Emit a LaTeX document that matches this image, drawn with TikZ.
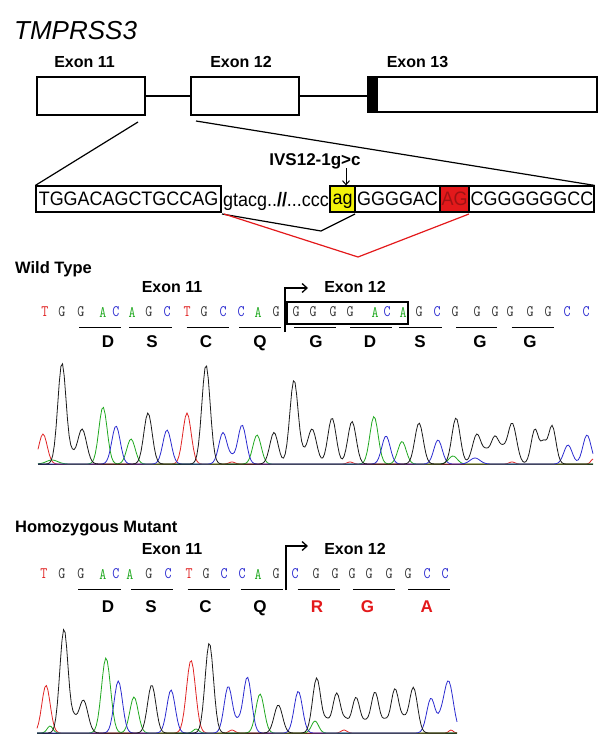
\documentclass[tikz,border=0pt]{standalone}
\usepackage{graphicx}
\usepackage{fontspec}
\setmainfont{Liberation Sans}
\usetikzlibrary{arrows.meta}
\definecolor{tblk}{HTML}{1A1A1A}
\definecolor{tgrn}{HTML}{1FA81F}
\definecolor{tblu}{HTML}{2B2BD0}
\definecolor{tred}{HTML}{E02424}
\definecolor{aared}{HTML}{E3191B}
\definecolor{hlyel}{HTML}{F2F20A}
\definecolor{ntblk}{HTML}{333333}
\newcommand\sqtxt[1]{\scalebox{0.92}[1]{#1}}
\newcommand\ntxt[1]{\scalebox{0.85}[1]{#1}}
\begin{document}
\begin{tikzpicture}[x=1pt,y=-1pt,
  every node/.style={inner sep=0pt, text depth=0pt},
  exonlbl/.style={font=\fontsize{16}{16}\selectfont\bfseries},
  exonbox/.style={draw, line width=1.2pt, fill=white},
  seqbox/.style={draw, line width=1.2pt, minimum height=26pt},
  seqtxt/.style={font=\fontsize{19.5}{19.5}\selectfont},
  ntd/.style={font=\ttfamily\fontsize{16}{16}\selectfont},
  codon/.style={line width=1.8pt},
  aa/.style={font=\fontsize{17}{17}\selectfont\bfseries},
  exarrow/.style={line width=1.3pt, -{Straight Barb[length=5pt,width=9pt]}},
  trace/.style={line width=0.8pt},
  baseln/.style={line width=1.8pt, black!85},
  declare function={pk(\ta,\tb,\tc,\td)=\tc*exp(-min(abs((\ta-\tb)/\td),5)*min(abs((\ta-\tb)/\td),5));}
]
\useasboundingbox (0,0) rectangle (600,749);

% ---------------- gene structure ----------------
\node[font=\fontsize{26}{26}\selectfont\itshape, anchor=west] (title) at (14,30) {TMPRSS3};
\node[exonlbl] (l11) at (84.5,62) {Exon 11};
\node[exonlbl] (l12) at (241,62) {Exon 12};
\node[exonlbl] (l13) at (417.5,62) {Exon 13};

\node[exonbox, minimum width=108pt, minimum height=38pt] (e11) at (91,96) {};
\node[exonbox, minimum width=108pt, minimum height=38pt] (e12) at (245,96) {};
\node[exonbox, minimum width=229pt, minimum height=35pt] (e13) at (482.5,94.5) {};
\node[fill=black, minimum width=10pt, minimum height=35pt, anchor=north west] (e13c) at (e13.north west) {};
\draw[line width=1.2pt] (e11.east) -- (e12.west);
\draw[line width=1.2pt] (e12.east) -- (e12.east -| e13.west);

% ---------------- sequence ----------------
\node[seqbox, seqtxt, minimum width=185pt] (s1) at (128.5,199) {\sqtxt{TGGACAGCTGCCAG}};
\node[seqtxt] (intr) at (276,199) {\sqtxt{gtacg..\textbf{//}...ccc}};
\node[seqbox, seqtxt, fill=hlyel, minimum width=25pt] (ag) at (342.5,199) {\sqtxt{ag}};
\node[seqbox, minimum width=239pt] (s2) at (474.5,199) {};
\node[seqbox, seqtxt, fill=aared, minimum width=29pt, text=aared!70!black] (AG) at (454.5,199) {\sqtxt{AG}};
\node[seqtxt] (gg) at (397.5,199) {\sqtxt{GGGGAC}};
\node[seqtxt] (cg) at (532,199) {\sqtxt{CGGGGGGCC}};

\coordinate (z1) at (138,122);
\coordinate (z2) at (196,121);
\draw[line width=1.2pt] (z1) -- (s1.north west);
\draw[line width=1.2pt] (z2) -- (s2.north east);

\node[font=\fontsize{17}{17}\selectfont\bfseries] (ivs) at (315,160) {IVS12-1g>c};
\coordinate (ivsa) at (346,168);
\draw[line width=1pt, -{Straight Barb[length=4pt,width=7pt]}] (ivsa) -- (ivsa |- ag.north);

\coordinate (sp1) at (222,214);
\coordinate (sp2) at (321,231);
\coordinate (sp3) at (355,214);
\draw[line width=1.2pt] (sp1) -- (sp2) -- (sp3);
\coordinate (rp1) at (224,214);
\coordinate (rp2) at (358,257);
\coordinate (rp3) at (469,214);
\draw[line width=1.2pt, aared] (rp1) -- (rp2) -- (rp3);

% ---------------- wild type ----------------
\node[font=\fontsize{16.5}{16.5}\selectfont\bfseries, anchor=west] (wt) at (15,268) {Wild Type};
\node[exonlbl] (w11) at (172,287) {Exon 11};
\node[exonlbl] (w12) at (355,287) {Exon 12};
\coordinate (warr0) at (285,332);
\coordinate (warr1) at (308,288);
\draw[exarrow] (warr0) |- (warr1);
\node[draw, line width=1.5pt, minimum width=121pt, minimum height=22pt] (wbox) at (347.5,313) {};
\foreach \x/\l/\c [count=\i] in {45/T/tred,62/G/ntblk,81/G/ntblk,103/A/tgrn,116/C/tblu,132/A/tgrn,149/G/ntblk,167/C/tblu,187/T/tred,204/G/ntblk,223/C/tblu,241/C/tblu,258/A/tgrn,276/G/ntblk,296/G/ntblk,313/G/ntblk,333/G/ntblk,350/G/ntblk,375/A/tgrn,387/C/tblu,403/A/tgrn,419/G/ntblk,437/C/tblu,455/G/ntblk,477/G/ntblk,495/G/ntblk,510/G/ntblk,530/G/ntblk,548/G/ntblk,567/C/tblu,586/C/tblu}
  \node[ntd, text=\c] (wn\i) at (\x,312) {\ntxt{\l}};
\foreach \a/\b in {79.3/120.7,129.3/171.7,186.7/229,239/280.7,294.3/336,350/391.7,399.3/441.7,456/497.3,511.7/554}
  \draw[codon] (\a,327.5) -- (\b,327.5);
\foreach \x/\l [count=\i] in {108/D,152/S,206/C,260/Q,316/G,370/D,420/S,480/G,530/G}
  \node[aa] (waa\i) at (\x,342) {\l};

% chromatogram 1
\draw[baseln] (38,464.5) -- (593,464.5);
\draw[trace, tred] plot[domain=38:593, samples=340] (\x,{464-pk(\x,43,30,5.9)-pk(\x,187,51,5.9)-pk(\x,593,5,3)-pk(\x,350,2,4)-pk(\x,512,2,4)-pk(\x,232,2,4)});
\draw[trace, tgrn] plot[domain=38:593, samples=340] (\x,{464-pk(\x,103,57,5.9)-pk(\x,131,25,5.9)-pk(\x,257,29,5.9)-pk(\x,374,47.5,5.9)-pk(\x,402,22.5,5.9)-pk(\x,453,8,6)-pk(\x,52,4,8)});
\draw[trace, tblu] plot[domain=38:593, samples=340] (\x,{464-pk(\x,116,38,5.9)-pk(\x,167,34,5.9)-pk(\x,223,31.5,5.9)-pk(\x,242,39,5.9)-pk(\x,232,5,4)-pk(\x,386,28,5.9)-pk(\x,438,24,5.9)-pk(\x,475,6,7)-pk(\x,568,19,5.9)-pk(\x,587,29,5.9)});
\draw[trace, tblk] plot[domain=38:593, samples=340] (\x,{464-pk(\x,62,101,5.9)-pk(\x,82,35,6.4)-pk(\x,72,7,4)-pk(\x,148,51,5.9)-pk(\x,206,99,5.9)-pk(\x,274,31.5,5.9)-pk(\x,294,84,5.9)-pk(\x,303,5,4)-pk(\x,312,35,6.4)-pk(\x,332,46,5.9)-pk(\x,352,42.5,5.9)-pk(\x,419,41,5.9)-pk(\x,456,46,5.9)-pk(\x,477,30,6.4)-pk(\x,486,8,4)-pk(\x,495,28,6.4)-pk(\x,503,8,4)-pk(\x,512,41,6.4)-pk(\x,535,35,5.4)-pk(\x,543.5,18,4)-pk(\x,552,38.5,5.4)});

% ---------------- homozygous mutant ----------------
\node[font=\fontsize{16.5}{16.5}\selectfont\bfseries, anchor=west] (hm) at (15,527) {Homozygous Mutant};
\node[exonlbl] (m11) at (172,549) {Exon 11};
\node[exonlbl] (m12) at (355,549) {Exon 12};
\coordinate (marr0) at (286,590);
\coordinate (marr1) at (308,546);
\draw[exarrow] (marr0) |- (marr1);
\foreach \x/\l/\c [count=\i] in {44/T/tred,62/G/ntblk,81/G/ntblk,103/A/tgrn,116/C/tblu,130/A/tgrn,149/G/ntblk,168/C/tblu,189/T/tred,206/G/ntblk,224/C/tblu,242/C/tblu,258/A/tgrn,276/G/ntblk,295/C/tblu,316/G/ntblk,335/G/ntblk,352/G/ntblk,369/G/ntblk,389/G/ntblk,408/G/ntblk,427/C/tblu,445/C/tblu}
  \node[ntd, text=\c] (mn\i) at (\x,574) {\ntxt{\l}};
\foreach \a/\b in {78.3/120.7,131/173.3,187.7/230,240.7/282.7,297.7/339.8,352.9/395.3,408.3/450.4}
  \draw[codon] (\a,589.5) -- (\b,589.5);
\foreach \x/\l/\c [count=\i] in {108/D/black,151/S/black,205.5/C/black,260/Q/black,317/R/aared,367.4/G/aared,426.7/A/aared}
  \node[aa, text=\c] (maa\i) at (\x,607) {\l};

% chromatogram 2
\draw[baseln] (37,733.5) -- (457,733.5);
\draw[trace, tred] plot[domain=37:457, samples=270] (\x,{733-pk(\x,46,47.6,5.9)-pk(\x,191,72.7,6.4)-pk(\x,232,3,4)-pk(\x,344,3,4)-pk(\x,451,3,3)});
\draw[trace, tgrn] plot[domain=37:457, samples=270] (\x,{733-pk(\x,50,7,4)-pk(\x,106,75,6.4)-pk(\x,134,36,5.9)-pk(\x,260,39,5.9)-pk(\x,315,12,5)-pk(\x,196,4,4)});
\draw[trace, tblu] plot[domain=37:457, samples=270] (\x,{733-pk(\x,118.3,52,5.9)-pk(\x,171,43,5.9)-pk(\x,228.3,46.7,5.9)-pk(\x,238,8,4)-pk(\x,247.3,56,5.9)-pk(\x,298.3,41.7,5.9)-pk(\x,431,34.7,6)-pk(\x,440,6,4)-pk(\x,448.3,52.3,7)});
\draw[trace, tblk] plot[domain=37:457, samples=270] (\x,{733-pk(\x,64,104,5.9)-pk(\x,74,10,4)-pk(\x,83.3,33,6.4)-pk(\x,151.7,48,5.9)-pk(\x,209.3,90,5.9)-pk(\x,278.3,28,5.9)-pk(\x,316.7,55,5.9)-pk(\x,326.7,10,4)-pk(\x,336.7,40,5.9)-pk(\x,346,10,4)-pk(\x,356,35.7,5.9)-pk(\x,365.5,8,4)-pk(\x,375,41,5.9)-pk(\x,385,10,4)-pk(\x,395,44.3,5.9)-pk(\x,404,10,4)-pk(\x,413.3,45.7,5.9)});
\end{tikzpicture}
\end{document}
